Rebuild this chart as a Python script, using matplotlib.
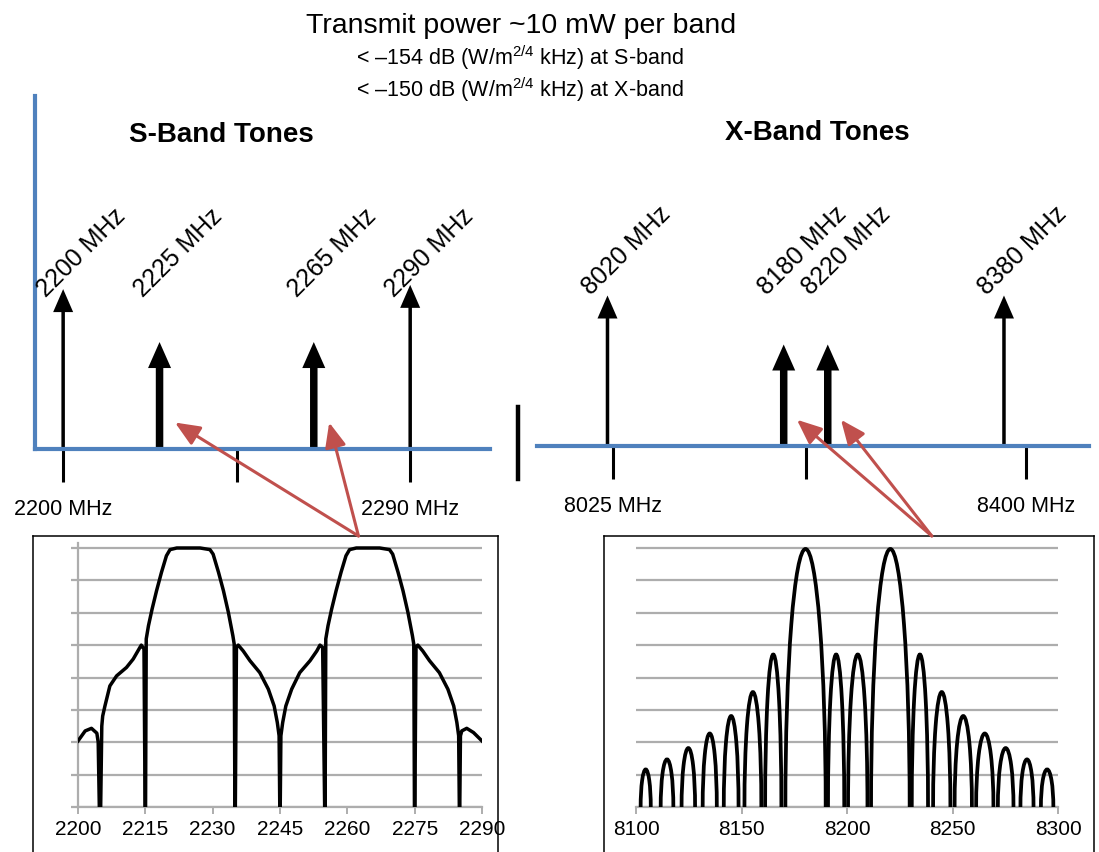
import numpy as np
import matplotlib
matplotlib.use('Agg')
import matplotlib.pyplot as plt
from matplotlib.patches import Arc, ConnectionPatch
from matplotlib.lines import Line2D

plt.rcParams['font.family'] = ['Liberation Sans', 'DejaVu Sans']
plt.rcParams['mathtext.fontset'] = 'custom'
plt.rcParams['mathtext.rm'] = 'Liberation Sans'
plt.rcParams['mathtext.default'] = 'regular'

W, H = 1099, 853
BLUE = '#4F81BD'
RED = '#C0504D'
GRID = '#ADADAD'

## text
title = 'Transmit power ~10 mW per band'
limit_lines = ['< –154 dB (W/m$^{2/4}$ kHz) at S-band',
               '< –150 dB (W/m$^{2/4}$ kHz) at X-band']

## S-band tones (MHz), relative heights of the arrows, thin = band edge
s_tones = [2200, 2225, 2265, 2290]
s_tone_level = [0.453, 0.303, 0.303, 0.465]
s_tone_thick = [False, True, True, False]
s_ticks = [2200, 2245, 2290]
s_tick_labels = ['2200 MHz', '', '2290 MHz']

## X-band tones (MHz)
x_tones = [8020, 8180, 8220, 8380]
x_tone_level = [0.43, 0.29, 0.29, 0.43]
x_tone_thick = [False, True, True, False]
x_ticks = [8025, 8200, 8400]
x_tick_labels = ['8025 MHz', '', '8400 MHz']

## S-band spectrum (grid units 0..8)
s_freq = [2200.0, 2201.6, 2203.0, 2204.2, 2204.5, 2204.75, 2205.05, 2205.3, 2205.5, 2206.0,
          2207.1, 2208.6, 2210.8, 2212.3, 2213.8, 2214.1, 2214.7, 2214.95, 2215.05,
          2215.2, 2215.7, 2216.5, 2217.5, 2218.6, 2219.7, 2220.5, 2222.0, 2227.2, 2229.4,
          2230.1, 2231.3, 2232.4, 2233.5, 2234.5, 2234.8, 2234.95, 2235.05,
          2235.3, 2235.7, 2236.8, 2238.3, 2240.5, 2242.4, 2243.7, 2244.4, 2244.8, 2244.95, 2245.05,
          2245.2, 2245.6, 2246.3, 2247.6, 2249.4, 2251.7, 2253.2, 2253.9, 2254.5, 2254.95, 2255.05,
          2255.2, 2255.7, 2256.5, 2257.5, 2258.6, 2259.7, 2260.5, 2262.0, 2267.2, 2269.4,
          2270.1, 2271.3, 2272.4, 2273.5, 2274.5, 2274.8, 2274.95, 2275.05,
          2275.3, 2275.7, 2276.8, 2278.3, 2280.5, 2282.4, 2283.7, 2284.4, 2284.8, 2284.95, 2285.05,
          2285.2, 2285.5, 2286.6, 2288.1, 2290.0]
s_level = [2.04, 2.35, 2.43, 2.28, 2.0, 0.0, 0.0, 2.5, 2.81, 3.12,
           3.74, 4.05, 4.31, 4.57, 4.93, 5.0, 4.88, 0.0, 0.0,
           5.19, 5.6, 6.11, 6.68, 7.25, 7.76, 7.95, 8.0, 8.0, 7.95,
           7.81, 7.25, 6.68, 6.01, 5.29, 5.03, 0.0, 0.0,
           4.95, 5.0, 4.82, 4.52, 4.15, 3.64, 3.12, 2.61, 2.2, 0.0, 0.0,
           2.2, 2.61, 3.12, 3.64, 4.15, 4.52, 4.82, 5.0, 4.93, 0.0, 0.0,
           5.19, 5.6, 6.11, 6.68, 7.25, 7.76, 7.95, 8.0, 8.0, 7.95,
           7.81, 7.25, 6.68, 6.01, 5.29, 5.03, 0.0, 0.0,
           4.95, 5.0, 4.82, 4.52, 4.15, 3.64, 3.12, 2.61, 2.2, 0.0, 0.0,
           2.2, 2.35, 2.43, 2.3, 2.04]

## X-band spectrum lobes: where each lobe leaves / meets the floor, and its peak
x_lobe_left = [8102.2, 8111.7, 8121.6, 8131.6, 8141.6, 8151.4, 8161.2, 8170.8, 8191.0,
               8200.5, 8211.4, 8230.7, 8240.8, 8251.0, 8261.2, 8271.5, 8282.2, 8291.9]
x_lobe_right = [8107.0, 8117.7, 8128.0, 8138.3, 8148.6, 8159.4, 8168.9, 8189.9, 8198.7,
                8209.7, 8229.7, 8238.4, 8249.0, 8259.2, 8269.4, 8278.9, 8288.4, 8297.8]
x_lobe_peak = [1.16, 1.47, 1.82, 2.27, 2.81, 3.55, 4.71, 7.97, 4.71,
               4.71, 7.97, 4.71, 3.55, 2.81, 2.27, 1.82, 1.47, 1.16]


def fig_rect(x0, y0, x1, y1):
    # pixel box (top-left origin) -> figure fraction rect
    return [x0 / W, (H - y1) / H, (x1 - x0) / W, (y1 - y0) / H]


fig = plt.figure(figsize=(W / 100, H / 100), dpi=100)

fig.text(521 / W, 1 - 33 / H, title, ha='center', va='baseline', fontsize=20.5)
fig.text(520 / W, 1 - 65 / H, limit_lines[0], ha='center', va='baseline', fontsize=15.5)
fig.text(520 / W, 1 - 97 / H, limit_lines[1], ha='center', va='baseline', fontsize=15.5)
fig.text(221 / W, 1 - 135 / H, 'S-Band Tones', ha='center', va='center',
         fontsize=20, fontweight='bold')
fig.text(817 / W, 1 - 133 / H, 'X-Band Tones', ha='center', va='center',
         fontsize=20, fontweight='bold')


def tone_panel(rect, tones, levels, thick, ticks, tick_labels, xlim, show_left):
    ax = fig.add_axes(rect)
    ax.set_xlim(*xlim)
    ax.set_ylim(0, 1)
    for s in ['top', 'right']:
        ax.spines[s].set_visible(False)
    ax.spines['left'].set_visible(show_left)
    for s in ['left', 'bottom']:
        ax.spines[s].set_color(BLUE)
        ax.spines[s].set_linewidth(3)
    ax.set_yticks([])
    ax.set_xticks(ticks, tick_labels)
    ax.tick_params(axis='x', direction='out', length=24, width=2.2, color='black',
                   pad=11, labelsize=15.5)
    ax.patch.set_alpha(0)

    # convert arrow sizes in pixels to data units
    px_x = rect[2] * W / (xlim[1] - xlim[0])
    px_y = rect[3] * H
    for f, lev, tk in zip(tones, levels, thick):
        shaft, head_w, head_l = (7.5, 23, 26) if tk else (3.5, 20, 23)
        ax.arrow(f, 0.005, 0, lev - 0.005, width=shaft / px_x, head_width=head_w / px_x,
                 head_length=head_l / px_y, length_includes_head=True,
                 color='black', lw=0)
        ax.annotate(f'{f} MHz', xy=(f, 0.43), xytext=(-12, 0), textcoords='offset points',
                    rotation=45, rotation_mode='anchor', ha='left', va='baseline',
                    fontsize=18)
    return ax


ax_s = tone_panel(fig_rect(35, 97, 490, 450), s_tones, s_tone_level, s_tone_thick,
                  s_ticks, s_tick_labels, (s_ticks[0] - 7.3, s_ticks[-1] + 20.7), True)
ax_x = tone_panel(fig_rect(537, 97, 1089, 447), x_tones, x_tone_level, x_tone_thick,
                  x_ticks, x_tick_labels, (x_ticks[0] - 69.0, x_ticks[-1] + 57.2), False)

# separator between the two bands
fig.add_artist(Line2D([518 / W, 518 / W], [(H - 480) / H, (H - 408) / H], color='black', lw=3.2))


def spectrum_panel(frame_rect, plot_rect, xlim, xticks, left_axis):
    frame = fig.add_axes(frame_rect)
    frame.set_xticks([])
    frame.set_yticks([])
    for s in frame.spines.values():
        s.set_linewidth(1.1)
        s.set_color('black')
    ax = fig.add_axes(plot_rect)
    ax.patch.set_alpha(0)
    ax.set_xlim(*xlim)
    ax.set_ylim(0, 8.15)
    ax.set_yticks(range(9))
    ax.set_yticklabels([])
    ax.set_xticks(xticks)
    ax.yaxis.grid(True, color=GRID, lw=1.6)
    ax.set_axisbelow(True)
    for s in ['top', 'right']:
        ax.spines[s].set_visible(False)
    ax.spines['left'].set_visible(left_axis)
    for s in ['left', 'bottom']:
        ax.spines[s].set_color(GRID)
        ax.spines[s].set_linewidth(1.6)
    ax.tick_params(axis='x', direction='out', length=5, width=1.4, color=GRID,
                   labelsize=15, pad=4)
    ax.tick_params(axis='y', direction='out', length=5 if left_axis else 0, width=1.6, color=GRID)
    return frame, ax


# plot areas scaled so that grid 0..8 spans 549..808 px
unit = (808 - 549) / 8
frame_s, sp_s = spectrum_panel(fig_rect(33, 537, 498, 870), fig_rect(78, 808 - 8.15 * unit, 482, 808),
                               (2200, 2290), range(2200, 2291, 15), True)
frame_x, sp_x = spectrum_panel(fig_rect(604, 537, 1094, 870), fig_rect(636, 808 - 8.15 * unit, 1058, 808),
                               (8100, 8300), range(8100, 8301, 50), False)

sp_s.plot(s_freq, s_level, color='black', lw=2.5, solid_joinstyle='round', zorder=3)

for l, r, p in zip(x_lobe_left, x_lobe_right, x_lobe_peak):
    sp_x.add_patch(Arc(((l + r) / 2, 0), r - l, 2 * p, theta1=0, theta2=180,
                       color='black', lw=2.7, zorder=3))

# red pointers from the spectra to the tones
for frame, ax, tones, thick, frac, dx in [(frame_s, ax_s, s_tones, s_tone_thick, 0.70, 4.0),
                                         (frame_x, ax_x, x_tones, x_tone_thick, 0.669, 12.0)]:
    for f, tk in zip(tones, thick):
        if not tk:
            continue
        con = ConnectionPatch(xyA=(frac, 1.0), coordsA=frame.transAxes,
                              xyB=(f + dx, 0.075), coordsB=ax.transData,
                              arrowstyle='-|>,head_length=0.75,head_width=0.32',
                              mutation_scale=20, color=RED, lw=2.2, shrinkA=0, shrinkB=0)
        fig.add_artist(con)

fig.savefig('out.png', dpi=100)
